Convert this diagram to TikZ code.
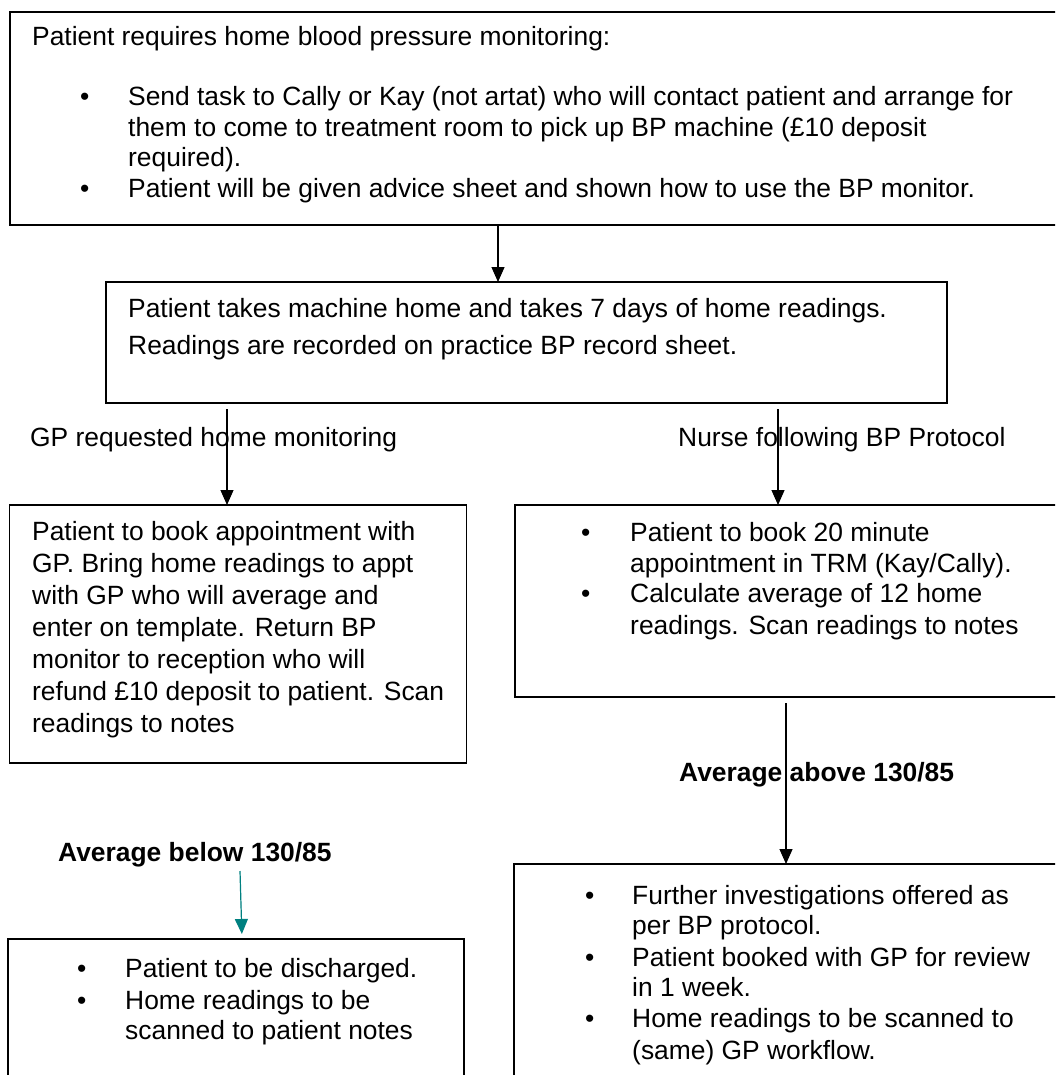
\documentclass[tikz,border=0pt]{standalone}
\usepackage{fontspec}
\setmainfont{Liberation Sans}
\usetikzlibrary{arrows.meta}
\definecolor{tealc}{RGB}{0,128,128}
\begin{document}
\begin{tikzpicture}[x=1pt,y=-1pt,
  box/.style={draw=black, line width=1.6pt, inner sep=0pt, outer sep=0pt, anchor=north west},
  txt/.style={anchor=base west, inner sep=0pt, font=\fontsize{26.4}{31}\selectfont},
  btxt/.style={anchor=base west, inner sep=0pt, font=\fontsize{26.4}{31}\selectfont\bfseries},
  arr/.style={-{Triangle[length=15pt,width=13pt]}, line width=1.2pt, draw=black},
  tarr/.style={-{Triangle[length=15pt,width=13pt]}, line width=1.2pt, draw=tealc, fill=tealc},
]
\path[use as bounding box] (0,0) rectangle (1055,1075);
\begin{scope}
\clip (0,0) rectangle (1055,1075);
% boxes
\node[box, minimum width=1060pt, minimum height=213pt] (top) at (10,12) {};
\node[box, minimum width=841pt, minimum height=121pt] (mid) at (106,282) {};
\node[box, minimum width=457pt, minimum height=258pt] (gp) at (9.5,505) {};
\node[box, minimum width=560pt, minimum height=192pt] (nurse) at (515,505) {};
\node[box, minimum width=456pt, minimum height=160pt] (low) at (8,939) {};
\node[box, minimum width=560pt, minimum height=230pt] (high) at (514,864) {};

% top box text
\node[txt] (t0) at (32,46) {Patient requires home blood pressure monitoring:};
\node[txt] (tb1) at (80,106) {\textbullet};
\node[txt] (t1) at (128,106) {Send task to Cally or Kay (not artat) who will contact patient and arrange for};
\node[txt] (t2) at (128,136.5) {them to come to treatment room to pick up BP machine (£10 deposit};
\node[txt] (t3) at (128,167) {required).};
\node[txt] (tb2) at (80,197.5) {\textbullet};
\node[txt] (t4) at (128,197.5) {Patient will be given advice sheet and shown how to use the BP monitor.};

% middle box text
\node[txt] (m1) at (128,317) {Patient takes machine home and takes 7 days of home readings.};
\node[txt] (m2) at (128,354) {Readings are recorded on practice BP record sheet.};

% branch labels
\node[txt] (lgp) at (30,446) {GP requested home monitoring};
\node[txt] (lnurse) at (678,446) {Nurse following BP Protocol};

% GP box text
\node[txt] (g1) at (32,540) {Patient to book appointment with};
\node[txt] (g2) at (32,572) {GP. Bring home readings to appt};
\node[txt] (g3) at (32,604) {with GP who will average and};
\node[txt] (g4) at (32,636) {enter on template. Return BP};
\node[txt] (g5) at (32,668) {monitor to reception who will};
\node[txt] (g6) at (32,700) {refund £10 deposit to patient. Scan};
\node[txt] (g7) at (32,732) {readings to notes};

% nurse box text
\node[txt] (nb1) at (581,541) {\textbullet};
\node[txt] (n1) at (630,541) {Patient to book 20 minute};
\node[txt] (n2) at (630,572) {appointment in TRM (Kay/Cally).};
\node[txt] (nb2) at (581,602) {\textbullet};
\node[txt] (n3) at (630,602) {Calculate average of 12 home};
\node[txt] (n4) at (630,634) {readings. Scan readings to notes};

% outcome labels
\node[btxt] (labove) at (679,781) {Average above 130/85};
\node[btxt] (lbelow) at (58,861) {Average below 130/85};

% low box text
\node[txt] (lb1) at (77,977) {\textbullet};
\node[txt] (l1) at (125,977) {Patient to be discharged.};
\node[txt] (lb2) at (77,1009) {\textbullet};
\node[txt] (l2) at (125,1009) {Home readings to be};
\node[txt] (l3) at (125,1039) {scanned to patient notes};

% high box text
\node[txt] (hb1) at (585,904) {\textbullet};
\node[txt] (h1) at (632,904) {Further investigations offered as};
\node[txt] (h2) at (632,934) {per BP protocol.};
\node[txt] (hb2) at (585,966) {\textbullet};
\node[txt] (h3) at (632,966) {Patient booked with GP for review};
\node[txt] (h4) at (632,996) {in 1 week.};
\node[txt] (hb3) at (585,1027) {\textbullet};
\node[txt] (h5) at (632,1027) {Home readings to be scanned to};
\node[txt] (h6) at (632,1059) {(same) GP workflow.};

% connectors
\coordinate (xa) at (498,0);
\coordinate (xb) at (227,0);
\coordinate (xc) at (778,0);
\coordinate (xd) at (786,0);
\coordinate (ts) at (240,871);
\coordinate (te) at (242,0);
\draw[arr] (xa |- top.south) -- (xa |- mid.north);
\draw[arr, shorten <=6pt] (xb |- mid.south) -- (xb |- gp.north);
\draw[arr, shorten <=6pt] (xc |- mid.south) -- (xc |- nurse.north);
\draw[arr, shorten <=6pt] (xd |- nurse.south) -- (xd |- high.north);
\draw[tarr, shorten >=5pt] (ts) -- (te |- low.north);
\end{scope}
\end{tikzpicture}
\end{document}
